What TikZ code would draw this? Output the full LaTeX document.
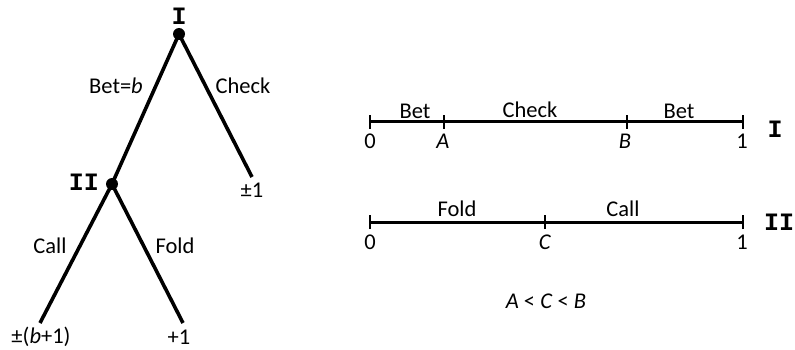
\documentclass[tikz,border=0pt]{standalone}
\usepackage{fontspec}
\setmainfont{Carlito}
\newfontfamily\monob{Liberation Mono}
\begin{document}
\begin{tikzpicture}[x=1pt,y=-1pt,
  branch/.style={line width=3.6pt},
  axis/.style={line width=3pt},
  tick/.style={line width=2pt},
  lbl/.style={font=\fontsize{22.5}{26}\selectfont, inner sep=0pt},
  pl/.style={font=\fontsize{25}{28}\selectfont\monob\bfseries, inner sep=0pt},
  dotn/.style={circle, fill=black, minimum size=12pt, inner sep=0pt}]
\useasboundingbox (0,0) rectangle (795,350);
% tree
\node[dotn] (n1) at (179,34) {};
\node[dotn] (n2) at (112,184) {};
\coordinate (chk) at (252,177);
\coordinate (call) at (40,323);
\coordinate (fold) at (183,323);
\draw[branch] (n1.center) -- (n2.center);
\draw[branch] (n1.center) -- (chk);
\draw[branch] (n2.center) -- (call);
\draw[branch] (n2.center) -- (fold);
\node[pl] (p1) at (179,16) {I};
\node[pl] (p2) at (84,182) {II};
\node[lbl] (lb) at (116,86) {Bet=\textit{b}};
\node[lbl] (lc) at (243,86) {Check};
\node[lbl] (lcall) at (50,246) {Call};
\node[lbl] (lfold) at (175,246) {Fold};
\node[lbl] (v1) at (252,190) {±1};
\node[lbl] (v2) at (41,337) {±(\textit{b}+1)};
\node[lbl] (v3) at (179,337) {+1};
% line I
\coordinate (a0) at (370,122);
\coordinate (aA) at (444,122);
\coordinate (aB) at (627,122);
\coordinate (a1) at (743,122);
\draw[axis] (a0) -- (a1);
\foreach \p in {a0,aA,aB,a1} \draw[tick] ([yshift=-7pt]\p) -- ([yshift=7pt]\p);
\node[lbl] (t1) at (415,111) {Bet};
\node[lbl] (t2) at (530,110) {Check};
\node[lbl] (t3) at (679,111) {Bet};
\node[lbl] (x0) at (370,141) {0};
\node[lbl] (xA) at (443,141) {\textit{A}};
\node[lbl] (xB) at (625,141) {\textit{B}};
\node[lbl] (x1) at (742,141) {1};
\node[pl] (q1) at (775,129) {I};
% line II
\coordinate (b0) at (370,222);
\coordinate (bC) at (545,222);
\coordinate (b1) at (743,222);
\draw[axis] (b0) -- (b1);
\foreach \p in {b0,bC,b1} \draw[tick] ([yshift=-7pt]\p) -- ([yshift=7pt]\p);
\node[lbl] (u1) at (457,209) {Fold};
\node[lbl] (u2) at (623,209) {Call};
\node[lbl] (y0) at (370,242) {0};
\node[lbl] (yC) at (545,242) {\textit{C}};
\node[lbl] (y1) at (742,242) {1};
\node[pl] (q2) at (779,222) {II};
\node[lbl] (rel) at (546,301) {\textit{A} < \textit{C} < \textit{B}};
\end{tikzpicture}
\end{document}
